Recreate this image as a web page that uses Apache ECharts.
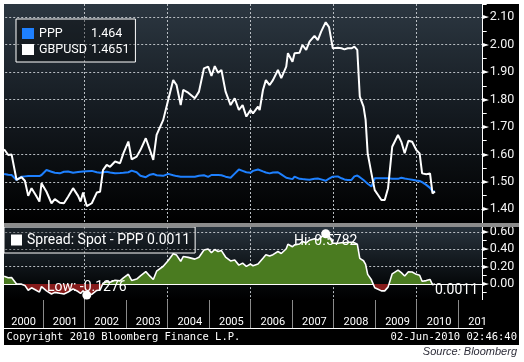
<!DOCTYPE html>
<html><head><meta charset="utf-8">
<script src="https://cdn.jsdelivr.net/npm/echarts@6/dist/echarts.min.js"></script>
<style>html,body{margin:0;padding:0;background:#fff}#c{width:524px;height:362px}</style>
</head><body><div id="c"></div>
<script>
// ---- data (x in fractional years) ----
const dates = [
2000.07,2000.17,2000.25,2000.37,2000.49,2000.57,2000.65,2000.73,2000.83,2000.92,
2000.97,2001.09,2001.21,2001.29,2001.41,2001.51,2001.61,2001.73,2001.85,2001.91,
2001.97,2002.06,2002.18,2002.30,2002.38,2002.45,2002.54,2002.62,2002.74,2002.86,
2002.94,2003.06,2003.14,2003.26,2003.35,2003.48,2003.58,2003.66,2003.74,2003.90,
2004.02,2004.14,2004.22,2004.32,2004.38,2004.50,2004.66,2004.76,2004.88,2004.98,
2005.06,2005.14,2005.22,2005.30,2005.40,2005.52,2005.62,2005.72,2005.81,2005.90,
2006.00,2006.06,2006.18,2006.22,2006.30,2006.37,2006.46,2006.54,2006.66,2006.74,
2006.86,2006.90,2007.01,2007.06,2007.18,2007.25,2007.34,2007.42,2007.54,2007.62,
2007.70,2007.81,2007.89,2007.98,2008.10,2008.19,2008.26,2008.34,2008.43,2008.50,
2008.57,2008.63,2008.72,2008.77,2008.82,2008.91,2008.99,2009.07,2009.15,2009.23,
2009.31,2009.41,2009.55,2009.63,2009.71,2009.80,2009.89,2009.99,2010.07,2010.13,
2010.23,2010.32,2010.38,2010.44];
const gbpusd = [
1.619,1.598,1.600,1.507,1.517,1.504,1.449,1.477,1.452,1.428,
1.495,1.464,1.422,1.437,1.424,1.422,1.446,1.477,1.449,1.428,
1.461,1.4114,1.422,1.461,1.464,1.543,1.562,1.555,1.574,1.568,
1.604,1.647,1.582,1.592,1.616,1.659,1.616,1.580,1.671,1.726,
1.799,1.871,1.853,1.780,1.835,1.825,1.805,1.829,1.914,1.920,
1.886,1.922,1.898,1.908,1.829,1.780,1.805,1.762,1.780,1.738,
1.762,1.750,1.774,1.762,1.835,1.871,1.853,1.871,1.908,1.878,
1.920,1.969,1.938,1.969,1.971,1.999,1.981,2.011,2.032,2.017,
2.048,2.0822,2.064,1.987,1.989,1.987,1.983,1.987,1.987,1.993,
1.981,1.811,1.774,1.726,1.604,1.531,1.470,1.452,1.434,1.434,
1.477,1.628,1.671,1.646,1.604,1.650,1.646,1.616,1.604,1.531,
1.528,1.531,1.458,1.4651];
const ppp = [
1.529,1.526,1.525,1.507,1.519,1.520,1.521,1.521,1.521,1.521,
1.525,1.543,1.537,1.533,1.531,1.537,1.538,1.533,1.536,1.537,
1.538,1.539,1.540,1.535,1.533,1.535,1.537,1.534,1.531,1.532,
1.533,1.535,1.541,1.535,1.522,1.517,1.526,1.529,1.524,1.522,
1.529,1.524,1.521,1.519,1.519,1.519,1.519,1.522,1.524,1.518,
1.525,1.525,1.525,1.524,1.519,1.515,1.530,1.545,1.540,1.535,
1.533,1.540,1.545,1.543,1.538,1.534,1.531,1.534,1.535,1.527,
1.515,1.512,1.510,1.519,1.511,1.510,1.509,1.508,1.511,1.512,
1.509,1.504,1.512,1.519,1.520,1.513,1.509,1.507,1.507,1.520,
1.523,1.517,1.507,1.500,1.493,1.483,1.513,1.513,1.513,1.513,
1.513,1.511,1.511,1.515,1.512,1.510,1.508,1.505,1.503,1.499,
1.489,1.478,1.466,1.464];
const spotTicks = ['1.40','1.50','1.60','1.70','1.80','1.90','2.00','2.10'];
const spreadTicks = ['0.00','0.20','0.40','0.60'];
const years = ['2000','2001','2002','2003','2004','2005','2006','2007','2008','2009','2010','2011'];
const spreadName = 'Spread: Spot - PPP';
const copyrightText = 'Copyright 2010 Bloomberg Finance L.P.';
const stampText = '02-Jun-2010 02:46:40';
const sourceText = 'Source: Bloomberg';

// ---- derived ----
const spread = gbpusd.map((v, i) => +(v - ppp[i]).toFixed(4));   // Spread = Spot - PPP
const pppData = dates.map((d, i) => [d, ppp[i]]);
const spotData = dates.map((d, i) => [d, gbpusd[i]]);
const spreadData = dates.map((d, i) => [d, spread[i]]);
const lastI = dates.length - 1;

const chart = echarts.init(document.getElementById('c'));
const L = 1.2, R = 524 - 482.7;
const X0 = 2000, X1 = 2011.588;
const FONT = 'Roboto';
const DASHC = '#b9bec3';
const GREEN = '#4a7b20', RED = '#861b1b';
const dash = {color: DASHC, width: 1, type: [2, 2]};
const lg = (stops) => new echarts.graphic.LinearGradient(0, 0, 0, 1, stops);

const yLabel = (list) => (v) => {
  const s = (Math.abs(v) < 1e-9 ? 0 : v).toFixed(2);
  return list.includes(s) ? '{a|\u25BA}{b|' + s + '}' : '';
};
const yRich = {
  a: {fontSize: 8, color: '#fff', fontFamily: 'DejaVu Sans', padding: [0, 1, 0, 0]},
  b: {fontSize: 12.5, color: '#f4f4f4', fontFamily: FONT}
};

const option = {
  animation: false,
  backgroundColor: '#ffffff',
  graphic: [
    {type: 'rect', z: -10, shape: {x: 4, y: 4, width: 515, height: 341}, style: {fill: '#000'}},
    {type: 'rect', z: -9, shape: {x: 4, y: 4, width: 478.7, height: 219},
     style: {fill: lg([{offset: 0, color: '#2c3741'}, {offset: 0.5, color: '#141a20'}, {offset: 1, color: '#000'}])}},
    {type: 'rect', z: -9, shape: {x: 4, y: 227, width: 478.7, height: 73},
     style: {fill: lg([{offset: 0, color: '#28333d'}, {offset: 0.75, color: '#06090b'}, {offset: 1, color: '#000'}])}},
    {type: 'rect', z: 100, shape: {x: 4, y: 223, width: 515, height: 4}, style: {fill: '#8c8c8c'}},
    {type: 'rect', z: 100, shape: {x: 4, y: 300, width: 515, height: 45}, style: {fill: '#000'}},
    {type: 'rect', z: 120, shape: {x: 486, y: 301, width: 33, height: 27}, style: {fill: '#000'}},
    {type: 'rect', z: 100, shape: {x: 0, y: 0, width: 4, height: 362}, style: {fill: '#fff'}},
    {type: 'text', z: 120, x: 6.5, y: 337,
     style: {text: copyrightText, fill: '#fff', font: '10.5px "DejaVu Sans Mono"', textAlign: 'left', align: 'left', textVerticalAlign: 'middle', verticalAlign: 'middle'}},
    {type: 'text', z: 120, x: 517, y: 337,
     style: {text: stampText, fill: '#fff', font: '10.5px "DejaVu Sans Mono"', textAlign: 'right', align: 'right', textVerticalAlign: 'middle', verticalAlign: 'middle'}},
    {type: 'text', z: 120, x: 517, y: 352,
     style: {text: sourceText, fill: '#2e2e3a', font: 'italic 11px "Liberation Sans"', textAlign: 'right', align: 'right', textVerticalAlign: 'middle', verticalAlign: 'middle'}}
  ],
  grid: [
    {left: L, right: R, top: 4, height: 219},
    {left: L, right: R, top: 223.1, height: 78.3},
    {left: L, right: R, top: 300, height: 28}
  ],
  xAxis: [
    {gridIndex: 0, type: 'value', min: X0, max: X1, interval: 2,
     axisLine: {show: false}, axisTick: {show: false}, axisLabel: {show: false},
     splitLine: {show: true, showMinLine: false, showMaxLine: false, lineStyle: dash}},
    {gridIndex: 1, type: 'value', min: X0, max: X1, interval: 2,
     axisLine: {show: true, onZero: true, lineStyle: {color: '#fff', width: 1}},
     axisTick: {show: false}, axisLabel: {show: false},
     splitLine: {show: true, showMinLine: false, showMaxLine: false, lineStyle: dash}},
    {gridIndex: 2, type: 'value', min: X0, max: X1, interval: 1, position: 'top', z: 110,
     axisLine: {show: true, lineStyle: {color: '#fff', width: 1}},
     axisTick: {show: false},
     splitLine: {show: true, showMinLine: false, showMaxLine: false, lineStyle: {color: '#8a8a8a', width: 1}},
     axisLabel: {inside: true, margin: 17, align: 'left', padding: [0, 0, 0, 10], color: '#fff',
       fontFamily: FONT, fontSize: 11, interval: 0, showMinLabel: true, showMaxLabel: false,
       formatter: (v) => {
         const r = Math.round(v);
         return Math.abs(v - r) < 1e-6 && years[r - 2000] ? years[r - 2000] : '';
       }}}
  ],
  yAxis: [
    {gridIndex: 0, type: 'value', position: 'right', min: 1.35, max: 2.1485, interval: 0.05,
     axisLine: {show: true, lineStyle: {color: '#fff', width: 1}},
     axisTick: {show: true, length: 4, lineStyle: {color: '#fff'}},
     splitLine: {show: true, lineStyle: {color: ['rgba(0,0,0,0)', DASHC], width: 1, type: [2, 2]}},
     axisLabel: {margin: 0, formatter: yLabel(spotTicks), rich: yRich}},
    {gridIndex: 1, type: 'value', position: 'right', min: -0.2, max: 0.7, interval: 0.1,
     axisLine: {show: true, lineStyle: {color: '#fff', width: 1}},
     axisTick: {show: true, length: 4, lineStyle: {color: '#fff'}},
     splitLine: {show: true, lineStyle: {color: [DASHC, 'rgba(0,0,0,0)'], width: 1, type: [2, 2]}},
     axisLabel: {margin: 0, formatter: yLabel(spreadTicks), rich: yRich}},
    {gridIndex: 2, type: 'value', show: false, min: 0, max: 1}
  ],
  legend: [
    {data: ['PPP', 'GBPUSD'], orient: 'vertical', left: 16, top: 19, icon: 'rect',
     itemWidth: 12, itemHeight: 11, itemGap: 3, padding: [8, 6, 6, 6],
     backgroundColor: 'rgba(0,0,0,0.35)', borderColor: '#fff', borderWidth: 1, borderRadius: 0,
     selectedMode: false,
     textStyle: {color: '#fff', fontFamily: FONT, fontSize: 12.5,
       rich: {n: {width: 52, color: '#fff', fontFamily: FONT, fontSize: 12.5},
              v: {color: '#fff', fontFamily: FONT, fontSize: 12.5}}},
     formatter: (name) => '{n|' + name + '}{v|' + (name === 'PPP' ? ppp[lastI] : gbpusd[lastI]) + '}'},
    {data: [{name: spreadName, itemStyle: {color: '#fff'}}], left: 4, top: 227, icon: 'rect',
     itemWidth: 11, itemHeight: 11, padding: [6, 5, 6, 7],
     backgroundColor: 'rgba(0,0,0,0.3)', borderColor: '#fff', borderWidth: 1, borderRadius: 0,
     selectedMode: false,
     textStyle: {color: '#fff', fontFamily: FONT, fontSize: 14},
     formatter: (name) => name + ' ' + spread[lastI].toFixed(4)}
  ],
  series: [
    {name: 'PPP', type: 'line', xAxisIndex: 0, yAxisIndex: 0, data: pppData, symbol: 'none',
     lineStyle: {color: '#1e80ff', width: 2}, itemStyle: {color: '#1e80ff'}, z: 3},
    {name: 'GBPUSD', type: 'line', xAxisIndex: 0, yAxisIndex: 0, data: spotData, symbol: 'none',
     lineStyle: {color: '#ffffff', width: 2}, itemStyle: {color: '#ffffff'}, z: 4},
    {name: spreadName, type: 'line', xAxisIndex: 1, yAxisIndex: 1, data: spreadData, symbol: 'none',
     lineStyle: {color: '#ffffff', width: 1.6}, itemStyle: {color: '#ffffff'},
     areaStyle: {opacity: 1, color: GREEN}, z: 3,
     markPoint: {
       symbol: 'circle', symbolSize: 9, itemStyle: {color: '#fff'},
       label: {color: '#fff', fontFamily: FONT, fontSize: 14},
       data: [
         {type: 'max', label: {position: 'inside', offset: [0, 8], formatter: (p) => 'Hi: ' + Number(p.value).toFixed(4)}},
         {type: 'min', label: {position: 'inside', offset: [0, -8], formatter: (p) => 'Low: ' + Number(p.value).toFixed(4)}},
         {coord: [dates[lastI], spread[lastI]], value: spread[lastI], symbolSize: 0,
          label: {position: 'right', offset: [-5, 7], formatter: (p) => Number(p.value).toFixed(4)}}
       ]
     }}
  ]
};
chart.setOption(option);

// colour the spread area green above zero, red below, split at the axis's own zero pixel
const zeroY = chart.convertToPixel({yAxisIndex: 1}, 0);
const H = chart.getHeight();
const f = zeroY / H;
chart.setOption({series: [{}, {}, {areaStyle: {opacity: 1,
  color: new echarts.graphic.LinearGradient(0, 0, 0, H, [
    {offset: 0, color: GREEN}, {offset: f, color: GREEN},
    {offset: f, color: RED}, {offset: 1, color: RED}], true)}}]});
</script>
</body></html>
